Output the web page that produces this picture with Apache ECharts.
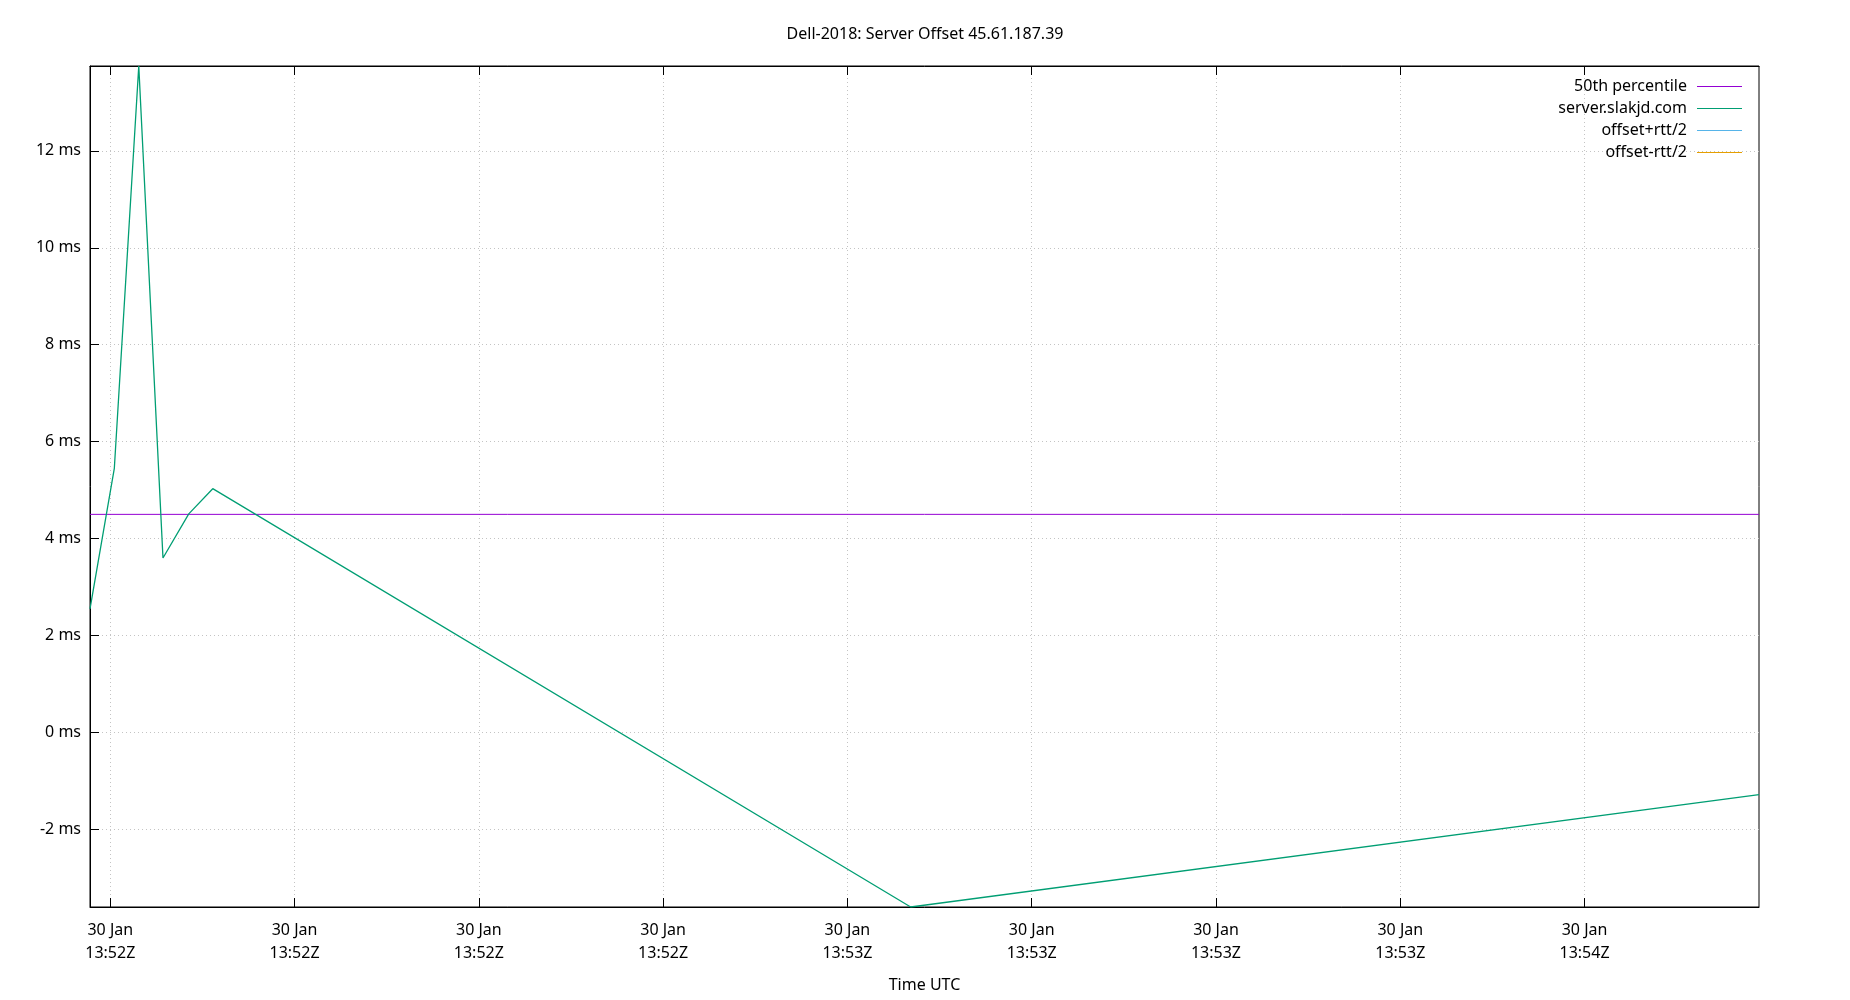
<!DOCTYPE html>
<html>
<head>
<meta charset="utf-8">
<title>Dell-2018: Server Offset 45.61.187.39</title>
<script src="https://cdn.jsdelivr.net/npm/echarts@6/dist/echarts.min.js"></script>
<style>
  html, body { margin: 0; padding: 0; background: #fff; }
  #chart { width: 1850px; height: 1000px; }
</style>
</head>
<body>
<div id="chart"></div>
<script>
// samples (UTC) and offsets in ms
const sampleTimes = [
  '2020-01-30T13:51:58.35Z',
  '2020-01-30T13:52:00.33Z',
  '2020-01-30T13:52:02.32Z',
  '2020-01-30T13:52:04.29Z',
  '2020-01-30T13:52:06.39Z',
  '2020-01-30T13:52:08.34Z',
  '2020-01-30T13:53:05.15Z',
  '2020-01-30T13:54:14.20Z',
]
const offsetMs = [2.55, 5.45, 13.75, 3.6, 4.51, 5.03, -3.6, -1.28]
const offsetPlusRtt = []
const offsetMinusRtt = []
const medianMs = 4.5

const xTickTimes = [
  '2020-01-30T13:52:00Z',
  '2020-01-30T13:52:15Z',
  '2020-01-30T13:52:30Z',
  '2020-01-30T13:52:45Z',
  '2020-01-30T13:53:00Z',
  '2020-01-30T13:53:15Z',
  '2020-01-30T13:53:30Z',
  '2020-01-30T13:53:45Z',
  '2020-01-30T13:54:00Z',
]
const yTickValues = [-2, 0, 2, 4, 6, 8, 10, 12]

const seriesNames = ['50th percentile', 'server.slakjd.com', 'offset+rtt/2', 'offset-rtt/2']
const seriesColors = ['#9400d3', '#009e73', '#56b4e9', '#e69f00']

const FONT = 'Noto Sans'
const MONTHS = ['Jan', 'Feb', 'Mar', 'Apr', 'May', 'Jun', 'Jul', 'Aug', 'Sep', 'Oct', 'Nov', 'Dec']

const times = sampleTimes.map((t) => Date.parse(t))
const xTicks = xTickTimes.map((t) => Date.parse(t))
const xMin = times[0]
const xMax = times[times.length - 1]
const yMin = Math.min(...offsetMs)
const yMax = Math.max(...offsetMs)

function pad(n) {
  return String(n).padStart(2, '0')
}

function timeLabel(v) {
  const d = new Date(v)
  return d.getUTCDate() + ' ' + MONTHS[d.getUTCMonth()] + '\n' +
    pad(d.getUTCHours()) + ':' + pad(d.getUTCMinutes()) + 'Z'
}

const gridLine = { show: true, lineStyle: { color: '#c4c4c4', width: 1, type: [1, 3] } }
const blackLine = { show: true, onZero: false, lineStyle: { color: '#000', width: 1 } }

function lineSeries(i, data, width) {
  return {
    name: seriesNames[i],
    type: 'line',
    data: data,
    symbol: 'none',
    color: seriesColors[i],
    lineStyle: { color: seriesColors[i], width: width },
    itemStyle: { color: seriesColors[i] },
  }
}

const chart = echarts.init(document.getElementById('chart'), null, { renderer: 'canvas' })

chart.setOption({
  backgroundColor: '#fff',
  animation: false,
  useUTC: true,
  textStyle: { fontFamily: FONT },
  title: {
    text: 'Dell-2018: Server Offset 45.61.187.39',
    left: 'center',
    top: 20,
    textStyle: { fontFamily: FONT, fontSize: 16, fontWeight: 'normal', color: '#000', lineHeight: 18 },
  },
  legend: seriesNames.map((name, i) => ({
    data: [name],
    right: 108,
    top: 77.5 + i * 22,
    orient: 'vertical',
    align: 'right',
    icon: 'rect',
    itemWidth: 45,
    itemHeight: 1,
    padding: 0,
    selectedMode: false,
    textStyle: { fontFamily: FONT, fontSize: 16, color: '#000', lineHeight: 18, padding: [0, 5, 0, 0] },
  })),
  grid: {
    left: 90,
    right: 91,
    top: 66,
    bottom: 93,
    show: true,
    borderColor: '#000',
    borderWidth: 1,
  },
  xAxis: [
    {
      type: 'value',
      min: xMin,
      max: xMax,
      name: 'Time UTC',
      nameLocation: 'middle',
      nameGap: 70,
      nameTextStyle: { fontFamily: FONT, fontSize: 16, color: '#000' },
      axisLine: blackLine,
      axisTick: { show: true, inside: true, length: 9, customValues: xTicks, lineStyle: { color: '#000' } },
      axisLabel: {
        customValues: xTicks,
        formatter: timeLabel,
        margin: 12,
        fontFamily: FONT,
        fontSize: 16,
        lineHeight: 23,
        color: '#000',
      },
      splitLine: gridLine,
    },
    {
      type: 'value',
      position: 'top',
      min: xMin,
      max: xMax,
      axisLine: blackLine,
      axisTick: { show: true, inside: true, length: 9, customValues: xTicks, lineStyle: { color: '#000' } },
      axisLabel: { show: false },
      splitLine: { show: false },
    },
  ],
  yAxis: {
    type: 'value',
    min: yMin,
    max: yMax,
    axisLine: blackLine,
    axisTick: { show: true, inside: true, length: 9, customValues: yTickValues, lineStyle: { color: '#000' } },
    axisLabel: {
      customValues: yTickValues,
      formatter: (v) => v + ' ms',
      margin: 9,
      fontFamily: FONT,
      fontSize: 16,
      color: '#000',
    },
    splitLine: gridLine,
  },
  series: [
    lineSeries(0, [[xMin, medianMs], [xMax, medianMs]], 1),
    lineSeries(1, times.map((t, i) => [t, offsetMs[i]]), 1.3),
    lineSeries(2, offsetPlusRtt, 1),
    lineSeries(3, offsetMinusRtt, 1),
  ],
})
</script>
</body>
</html>
